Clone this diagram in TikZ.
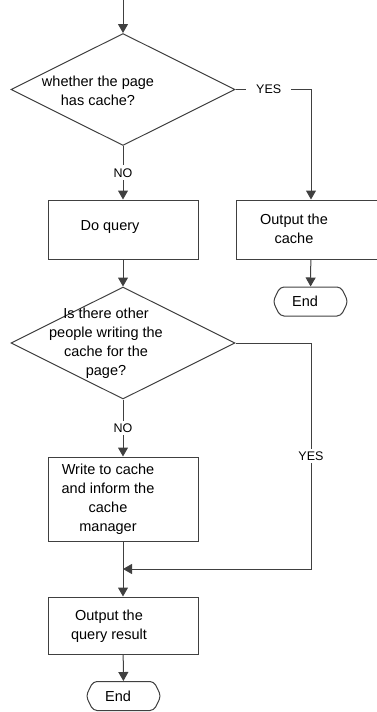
\documentclass[tikz,border=0pt]{standalone}
\usepackage{fontspec}
\setmainfont{Liberation Sans}
\usetikzlibrary{arrows.meta,shapes.geometric,shapes.symbols,positioning}
\tikzset{>=stealth}

\begin{document}
\begin{tikzpicture}[x=1pt,y=-1pt,
	line/.style={draw=black!75,line width=1pt},
	arr/.style={line,-{Triangle[width=10pt,length=9pt]}},
	box/.style={line,rectangle,minimum width=150pt,minimum height=59pt,inner sep=0pt},
	decision/.style={line,diamond,minimum width=224pt,minimum height=112pt,inner sep=0pt},
	txt/.style={align=center,font=\fontsize{14.5}{19}\selectfont,inner sep=0pt},
	endnode/.style={line,signal,signal to=west and east,signal pointer angle=128,minimum width=75pt,minimum height=29pt,rounded corners=4pt,inner sep=0pt},
	lbl/.style={fill=white,font=\fontsize{12.5}{14}\selectfont,inner xsep=10pt,inner ysep=3pt}]
	\useasboundingbox (0,0) rectangle (377,712);
	\clip (0,0) rectangle (377,712);
	
	%Shapes
	\coordinate (start) at (123,0);
	\node[decision] (cache) at (123,89.5) {};
	\node[txt] (cachetxt) at (98,91) {whether the page\\has cache?};
	\node[box] (query) at (123,229.5) {};
	\node[txt] (querytxt) at (110,227) {Do query};
	\node[box] (outcache) at (311,229.5) {};
	\node[txt] (outcachetxt) at (294,229) {Output the\\cache};
	\node[endnode] (end1) at (310.5,301.5) {};
	\node[txt] (end1txt) at (305,301.5) {End};
	\node[decision] (writing) at (123,343) {};
	\node[txt] (writingtxt) at (106,343.5) {Is there other\\people writing the\\cache for the\\page?};
	\node[box,minimum height=84pt] (write) at (123,499) {};
	\node[txt] (writetxt) at (108,499) {Write to cache\\and inform the\\cache\\manager};
	\node[box,minimum height=57pt] (result) at (123,625.5) {};
	\node[txt] (resulttxt) at (109,626) {Output the\\query result};
	\node[endnode] (end2) at (123.5,696) {};
	\node[txt] (end2txt) at (118,696) {End};
	
	%Arrows
	\coordinate (yesturn) at (311,569);
	\coordinate (merge) at (123,569);
	\draw[arr] (start) -- (cache);
	\draw[arr] (cache) -- node[lbl] {NO} (query);
	\draw[arr] (cache.east) -| node[lbl,pos=0.22] {YES} (outcache);
	\draw[arr] (outcache) -- (end1);
	\draw[arr] (query) -- (writing);
	\draw[arr] (writing) -- node[lbl] {NO} (write);
	\draw[arr] (writing.east) -| node[lbl,pos=0.75] {YES} (yesturn) -- (merge);
	\draw[arr] (write) -- (result);
	\draw[arr] (result) -- (end2);
\end{tikzpicture}
\end{document}
